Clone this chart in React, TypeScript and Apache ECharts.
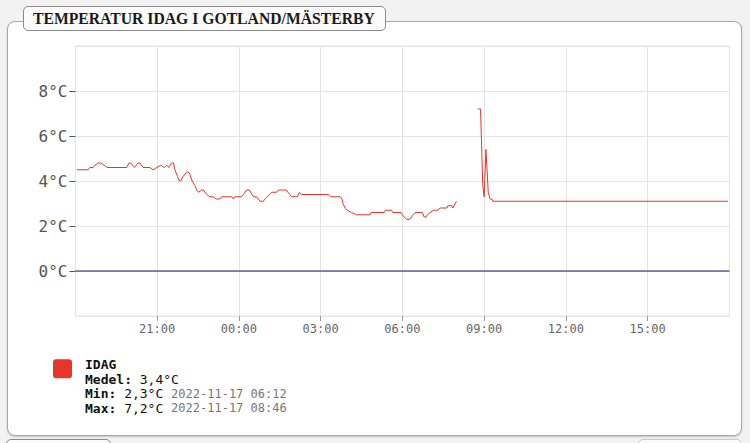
import React, { useEffect, useRef } from "react";
import * as echarts from "echarts";

// Time of each reading (local clock, from 18:00 yesterday to 18:00 today)
const times = [
  "18:03", "18:28", "18:32", "18:39", "18:43", "18:50", "18:56", "19:03", "19:10", "19:53",
  "19:58", "20:02", "20:10", "20:18", "20:22", "20:29", "20:44", "20:51", "20:59", "21:08",
  "21:16", "21:21", "21:26", "21:32", "21:36", "21:39", "21:45", "21:49", "21:52", "21:57",
  "22:05", "22:09", "22:12", "22:17", "22:23", "22:27", "22:31", "22:38", "22:42", "22:49",
  "22:56", "23:03", "23:11", "23:18", "23:22", "23:44", "23:48", "23:51", "00:05", "00:10",
  "00:17", "00:23", "00:29", "00:32", "00:39", "00:43", "00:46", "00:54", "00:57", "01:02",
  "01:08", "01:12", "01:23", "01:27", "01:44", "01:48", "01:52", "01:56", "02:09", "02:13",
  "02:18", "03:17", "03:22", "03:43", "03:47", "03:49", "03:54", "03:59", "04:08", "04:19",
  "04:49", "04:51", "05:20", "05:23", "05:36", "05:39", "05:57", "06:00", "06:04", "06:09",
  "06:12", "06:16", "06:20", "06:24", "06:28", "06:44", "06:48", "06:52", "06:55", "07:01",
  "07:08", "07:18", "07:23", "07:38", "07:40", "07:49", "07:51", "07:59", "08:20", "08:46",
  "08:52", "08:57", "09:00", "09:04", "09:09", "09:13", "09:17", "09:19", "17:57",
];
// Temperature (°C) for each reading; null = no data (gap)
const temps: (number | null)[] = [
  4.5, 4.5, 4.6, 4.6, 4.7, 4.8, 4.8, 4.7, 4.6, 4.6,
  4.8, 4.8, 4.6, 4.8, 4.8, 4.6, 4.6, 4.5, 4.6, 4.7,
  4.6, 4.7, 4.6, 4.8, 4.8, 4.5, 4.2, 4.0, 4.0, 4.2,
  4.4, 4.4, 4.3, 4.0, 3.8, 3.6, 3.5, 3.6, 3.6, 3.4,
  3.3, 3.3, 3.2, 3.2, 3.3, 3.3, 3.2, 3.3, 3.3, 3.4,
  3.6, 3.6, 3.4, 3.3, 3.3, 3.2, 3.1, 3.1, 3.2, 3.3,
  3.4, 3.5, 3.5, 3.6, 3.6, 3.5, 3.4, 3.3, 3.3, 3.5,
  3.4, 3.4, 3.3, 3.3, 3.2, 3.0, 2.8, 2.7, 2.6, 2.5,
  2.5, 2.6, 2.6, 2.7, 2.7, 2.6, 2.6, 2.5, 2.4, 2.3,
  2.3, 2.3, 2.4, 2.5, 2.6, 2.6, 2.4, 2.4, 2.5, 2.6,
  2.7, 2.7, 2.8, 2.8, 2.9, 2.9, 2.8, 3.1, null, 7.2,
  7.2, 3.8, 3.3, 5.4, 3.5, 3.2, 3.2, 3.1, 3.1,
];

const START_HOUR = 18; // x axis starts 18:00 the day before
const xTickHours = [21, 0, 3, 6, 9, 12, 15];
const yTicks = [0, 2, 4, 6, 8];
const zeroLine = [0, 0]; // reference line at 0 °C across the full day

const titleText = "TEMPERATUR IDAG I GOTLAND/MÄSTERBY";
const seriesName = "IDAG";
const meanText = "3,4°C";
const minText = "2,3°C";
const minTime = "2022-11-17 06:12";
const maxText = "7,2°C";
const maxTime = "2022-11-17 08:46";

const RED = "#e8352a";
const NAVY = "#15156e";
const MONO = "'DejaVu Sans Mono', monospace";

function toMinutes(t: string): number {
  const [h, m] = t.split(":").map(Number);
  return (h * 60 + m - START_HOUR * 60 + 1440) % 1440;
}

function fmtMinutes(v: number): string {
  const total = (START_HOUR * 60 + Math.round(v)) % 1440;
  const h = Math.floor(total / 60);
  const m = total % 60;
  return `${String(h).padStart(2, "0")}:${String(m).padStart(2, "0")}`;
}

export default function App() {
  const ref = useRef<HTMLDivElement>(null);

  useEffect(() => {
    if (!ref.current) return;
    const chart = echarts.init(ref.current, null, { renderer: "svg" });
    const data = times.map((t, i) => [toMinutes(t), temps[i] === null ? null : temps[i]]);
    const zeroData = [
      [0, zeroLine[0]],
      [1440, zeroLine[1]],
    ];

    chart.setOption({
      animation: false,
      backgroundColor: "transparent",
      title: {
        text: titleText,
        left: 33,
        top: 10,
        textStyle: {
          fontFamily: "'Liberation Serif', serif",
          fontWeight: "bold",
          fontSize: 15.7,
          color: "#1a1a1a",
        },
        padding: 0,
      },
      grid: {
        left: 75.4,
        right: 20.6,
        top: 46,
        bottom: 127,
        show: true,
        borderColor: "#e4e4e4",
        borderWidth: 1,
      },
      xAxis: {
        type: "value",
        min: 0,
        max: 1440,
        interval: 180,
        axisLine: { show: false, onZero: false },
        axisTick: { show: true, length: 5, lineStyle: { color: "#999" } },
        splitLine: { show: true, lineStyle: { color: "#e4e4e4", width: 1 } },
        axisLabel: {
          showMinLabel: false,
          showMaxLabel: false,
          margin: 7,
          fontFamily: MONO,
          fontSize: 12,
          color: "#666",
          formatter: (v: number) => {
            const label = fmtMinutes(v);
            const hour = Number(label.slice(0, 2));
            return xTickHours.includes(hour) ? label : "";
          },
        },
      },
      yAxis: {
        type: "value",
        min: -2,
        max: 10,
        interval: 2,
        axisLine: { show: false, onZero: false },
        axisTick: { show: true, length: 6, lineStyle: { color: "#555" } },
        splitLine: { show: true, lineStyle: { color: "#e4e4e4", width: 1 } },
        axisLabel: {
          showMinLabel: false,
          showMaxLabel: false,
          margin: 8,
          fontFamily: MONO,
          fontSize: 16,
          color: "#555",
          formatter: (v: number) => (yTicks.includes(v) ? `${v}°C` : ""),
        },
      },
      series: [
        {
          name: "zero",
          type: "line",
          data: zeroData,
          showSymbol: false,
          silent: true,
          lineStyle: { color: NAVY, width: 1 },
          itemStyle: { color: NAVY },
          z: 2,
        },
        {
          name: seriesName,
          type: "line",
          data,
          showSymbol: false,
          connectNulls: false,
          lineStyle: { color: RED, width: 1 },
          itemStyle: { color: RED },
          z: 3,
        },
      ],
      graphic: [
        {
          type: "group",
          left: 53,
          top: 358,
          children: [
            {
              type: "rect",
              shape: { x: 0, y: 0, width: 19, height: 19, r: 3 },
              style: { fill: RED },
            },
            {
              type: "text",
              x: 32,
              y: -2,
              style: {
                text:
                  `{b|${seriesName}}\n` +
                  `{b|Medel: }{n|${meanText}}\n` +
                  `{b|Min: }{n|${minText} }{d|${minTime}}\n` +
                  `{b|Max: }{n|${maxText} }{d|${maxTime}}`,
                rich: {
                  b: { fontFamily: MONO, fontSize: 13, fontWeight: "bold", fill: "#111", lineHeight: 14.5 },
                  n: { fontFamily: MONO, fontSize: 13, fill: "#111", lineHeight: 14.5 },
                  d: { fontFamily: MONO, fontSize: 12, fill: "#777", lineHeight: 14.5 },
                },
              },
            },
          ],
        },
      ],
    });

    return () => chart.dispose();
  }, []);

  return (
    <div
      style={{
        position: "absolute",
        left: 0,
        top: 0,
        width: 750,
        height: 443,
        background: "#f2f2f2",
        overflow: "hidden",
      }}
    >
      <div
        style={{
          position: "absolute",
          left: 7,
          top: 21,
          width: 733,
          height: 413,
          border: "1px solid #a8a8a8",
          borderRadius: 8,
          background: "#fff",
          boxShadow: "0 1px 2px rgba(0,0,0,0.2)",
        }}
      />
      <div
        style={{
          position: "absolute",
          left: 23,
          top: 6,
          width: 361,
          height: 23,
          border: "1px solid #8a8a8a",
          borderRadius: 5,
          background: "#fbfbfb",
        }}
      />
      <div
        style={{
          position: "absolute",
          left: 6,
          top: 439,
          width: 103,
          height: 30,
          border: "1px solid #8a8a8a",
          borderRadius: 5,
          background: "#fbfbfb",
        }}
      />
      <div
        style={{
          position: "absolute",
          left: 638,
          top: 439,
          width: 102,
          height: 30,
          border: "1px solid #c8c8c8",
          borderRadius: 5,
          background: "#fbfbfb",
        }}
      />
      <div
        ref={ref}
        style={{ position: "absolute", left: 0, top: 0, width: 750, height: 443 }}
      />
    </div>
  );
}
